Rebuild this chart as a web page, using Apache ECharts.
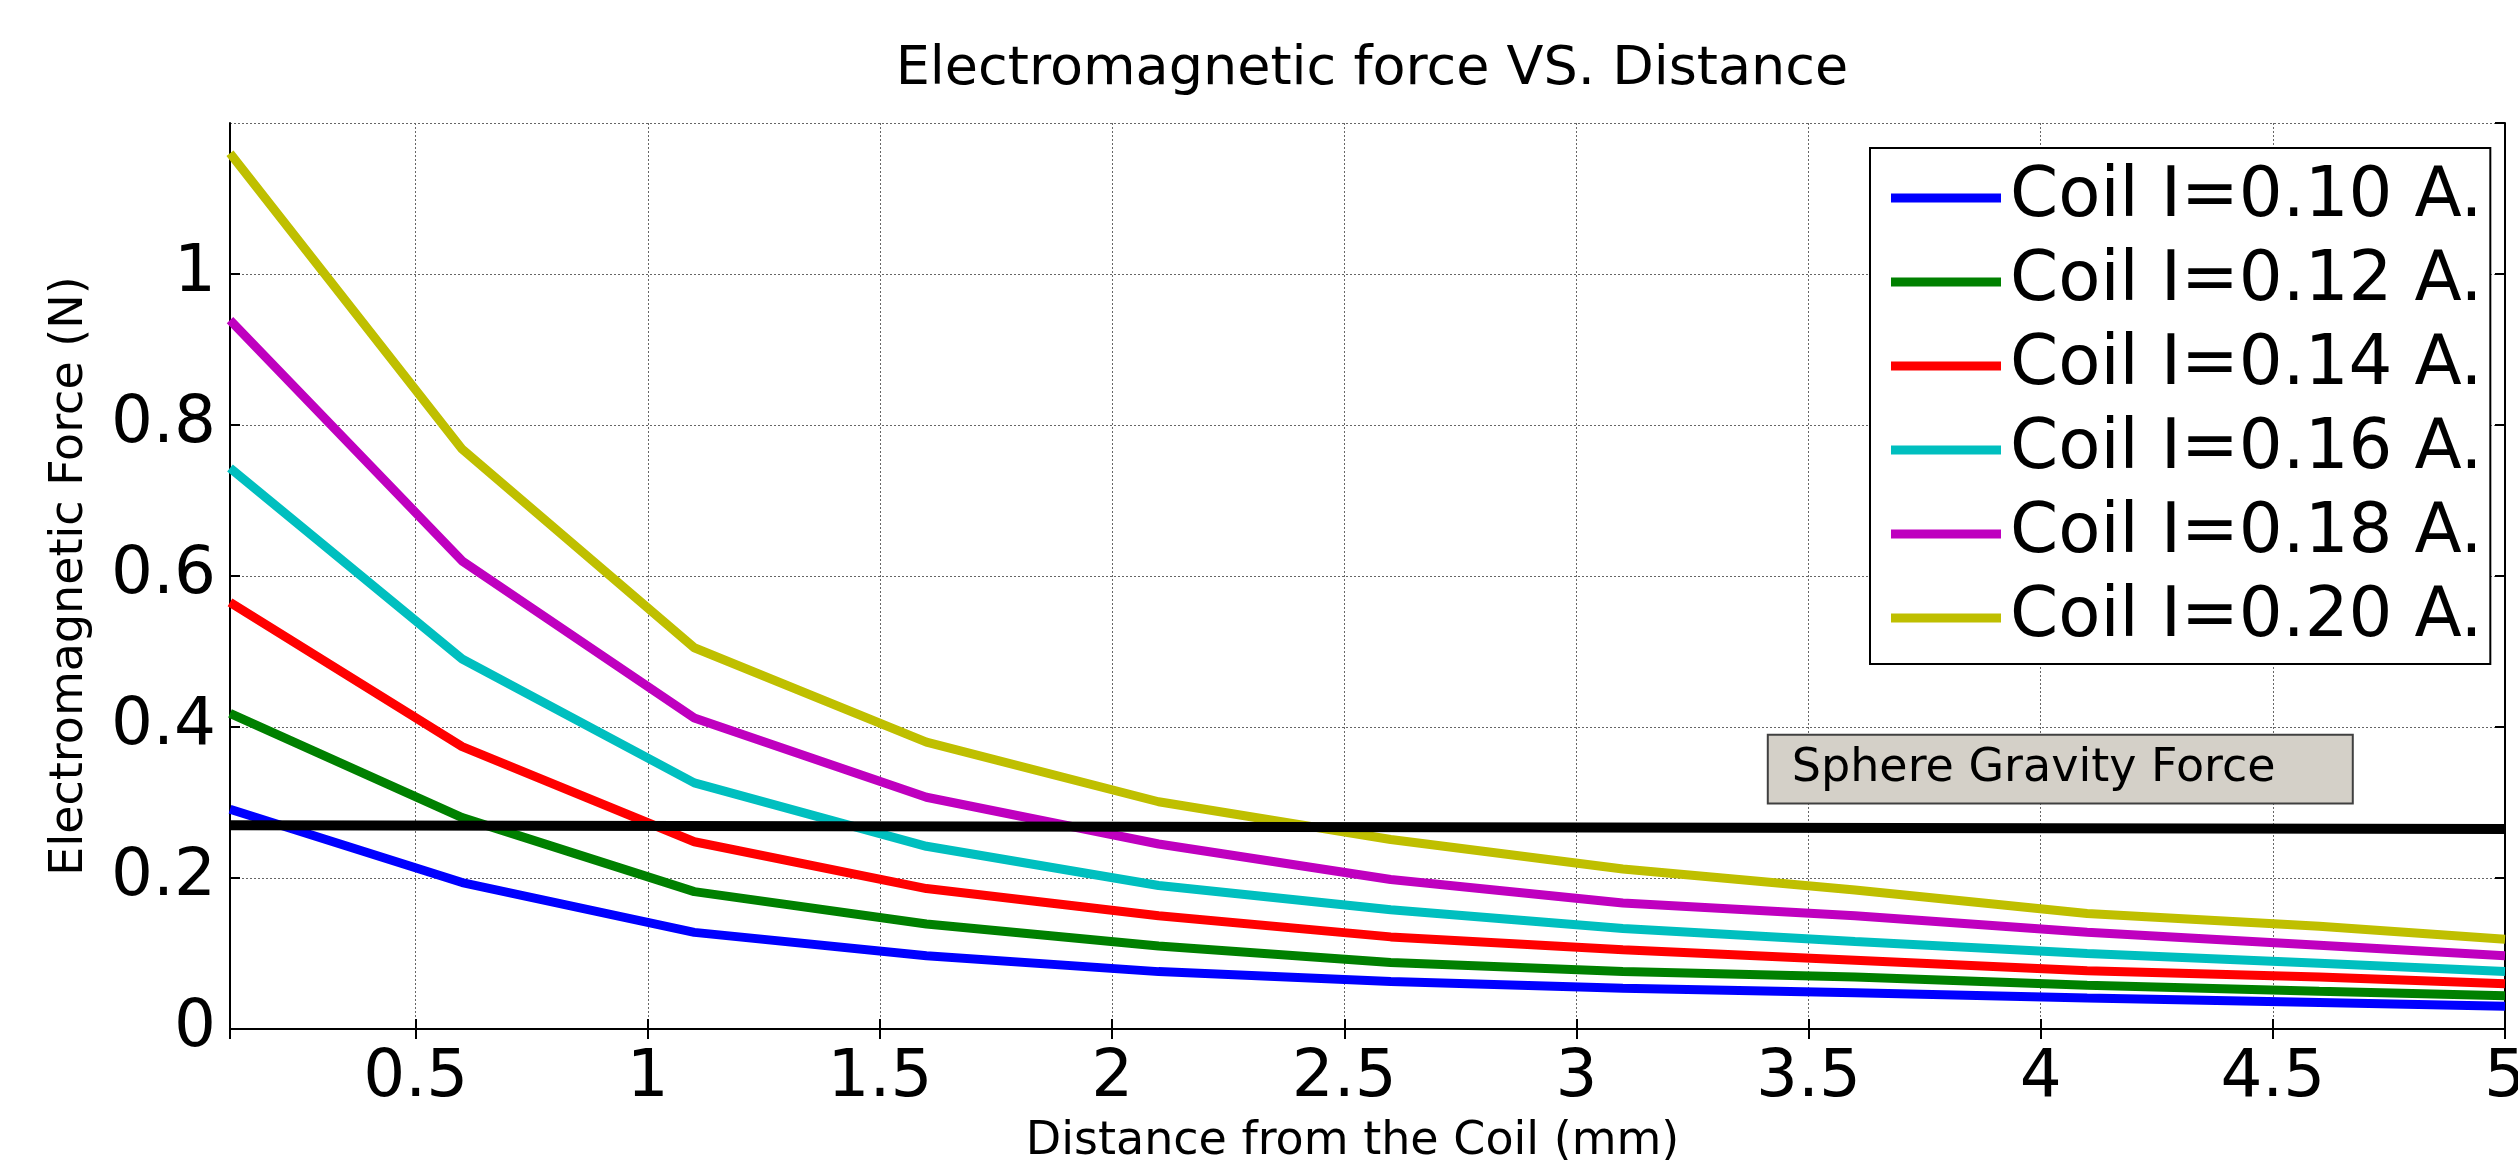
<!DOCTYPE html>
<html>
<head>
<meta charset="utf-8">
<title>Electromagnetic force VS. Distance</title>
<script src="https://cdn.jsdelivr.net/npm/echarts@6/dist/echarts.min.js"></script>
<style>
  html, body { margin: 0; padding: 0; background: #fff; }
  #chart { width: 2518px; height: 1160px; }
</style>
</head>
<body>
<div id="chart"></div>
<script>
// distance from the coil (mm)
const distance = [0.1, 0.6, 1.1, 1.6, 2.1, 2.6, 3.1, 3.6, 4.1, 4.6, 5.0];

// electromagnetic force (N) per coil current
const coil010 = [0.291, 0.194, 0.128, 0.097, 0.076, 0.063, 0.054, 0.048, 0.041, 0.035, 0.030];
const coil012 = [0.418, 0.280, 0.182, 0.139, 0.110, 0.088, 0.076, 0.069, 0.058, 0.050, 0.044];
const coil014 = [0.565, 0.374, 0.248, 0.186, 0.150, 0.122, 0.105, 0.091, 0.077, 0.069, 0.060];
const coil016 = [0.743, 0.490, 0.326, 0.242, 0.190, 0.158, 0.133, 0.116, 0.100, 0.087, 0.076];
const coil018 = [0.939, 0.620, 0.412, 0.307, 0.245, 0.198, 0.167, 0.150, 0.128, 0.111, 0.097];
const coil020 = [1.160, 0.768, 0.505, 0.380, 0.301, 0.251, 0.212, 0.184, 0.153, 0.136, 0.119];

const seriesNames = ['Coil I=0.10 A.', 'Coil I=0.12 A.', 'Coil I=0.14 A.', 'Coil I=0.16 A.', 'Coil I=0.18 A.', 'Coil I=0.20 A.'];
const seriesColors = ['#0000ff', '#008000', '#ff0000', '#00bfbf', '#bf00bf', '#bfbf00'];
const seriesValues = [coil010, coil012, coil014, coil016, coil018, coil020];

// sphere gravity force line
const gravityX = [0.1, 5.0];
const gravityY = [0.270, 0.265];

const FONT = 'DejaVu Sans';
const gridLine = { show: true, lineStyle: { color: '#666', type: [2, 2], width: 1 } };
const frameLine = { show: true, lineStyle: { color: '#000', width: 2 } };
const innerTick = { show: true, inside: true, length: 10, lineStyle: { color: '#000', width: 2 } };

const chart = echarts.init(document.getElementById('chart'));

const lineSeries = seriesNames.map((name, i) => ({
  name: name,
  type: 'line',
  data: distance.map((d, k) => [d, seriesValues[i][k]]),
  showSymbol: false,
  symbol: 'none',
  color: seriesColors[i],
  lineStyle: { width: 9, color: seriesColors[i] },
  z: 3
}));

lineSeries.push({
  name: 'Sphere Gravity Force',
  type: 'line',
  data: gravityX.map((d, k) => [d, gravityY[k]]),
  showSymbol: false,
  symbol: 'none',
  color: '#000',
  lineStyle: { width: 10, color: '#000' },
  z: 4
});

const option = {
  backgroundColor: '#fff',
  animation: false,
  title: {
    text: 'Electromagnetic force VS. Distance',
    left: 1367,
    top: 38,
    textAlign: 'center',
    textStyle: { fontFamily: FONT, fontSize: 54, fontWeight: 'normal', color: '#000' }
  },
  grid: { left: 230, right: 13, top: 123, bottom: 131, containLabel: false, outerBoundsMode: 'none' },
  legend: {
    data: seriesNames,
    orient: 'vertical',
    left: 1870,
    top: 148,
    icon: 'rect',
    itemWidth: 110,
    itemHeight: 9,
    itemGap: 0,
    padding: [8, 8, 4, 21],
    backgroundColor: '#fff',
    borderColor: '#000',
    borderWidth: 2,
    borderRadius: 0,
    textStyle: { fontFamily: FONT, fontSize: 69, color: '#000', lineHeight: 84, padding: [0, 0, 0, 4] },
    z: 10
  },
  xAxis: [{
    type: 'value',
    min: 0.1,
    max: 5,
    minInterval: 0.5,
    maxInterval: 0.5,
    name: 'Distance from the Coil (mm)',
    nameLocation: 'middle',
    nameGap: 90,
    nameTextStyle: { fontFamily: FONT, fontSize: 46, color: '#000', padding: [0, 30, 0, 0] },
    axisLine: frameLine,
    axisTick: innerTick,
    axisLabel: { fontFamily: FONT, fontSize: 66, color: '#000', margin: 17, showMinLabel: false },
    splitLine: gridLine
  }, {
    type: 'value',
    position: 'top',
    min: 0.1,
    max: 5,
    minInterval: 0.5,
    maxInterval: 0.5,
    axisLine: frameLine,
    axisTick: innerTick,
    axisLabel: { show: false },
    splitLine: { show: false }
  }],
  yAxis: [{
    type: 'value',
    min: 0,
    max: 1.2,
    interval: 0.2,
    name: 'Electromagnetic Force (N)',
    nameLocation: 'middle',
    nameGap: 137,
    nameTextStyle: { fontFamily: FONT, fontSize: 46, color: '#000' },
    axisLine: frameLine,
    axisTick: innerTick,
    axisLabel: { fontFamily: FONT, fontSize: 66, color: '#000', margin: 14, showMaxLabel: false },
    splitLine: gridLine
  }, {
    type: 'value',
    position: 'right',
    min: 0,
    max: 1.2,
    interval: 0.2,
    axisLine: frameLine,
    axisTick: innerTick,
    axisLabel: { show: false },
    splitLine: { show: false }
  }],
  series: lineSeries
};

chart.setOption(option);

// annotation box, anchored to data coordinates
const boxTopLeft = chart.convertToPixel({ gridIndex: 0 }, [3.41, 0.391]);
const boxBottomRight = chart.convertToPixel({ gridIndex: 0 }, [4.67, 0.300]);
const boxW = boxBottomRight[0] - boxTopLeft[0];
const boxH = boxBottomRight[1] - boxTopLeft[1];

chart.setOption({
  graphic: [{
    type: 'group',
    left: boxTopLeft[0],
    top: boxTopLeft[1],
    z: 20,
    children: [{
      type: 'rect',
      shape: { x: 0, y: 0, width: boxW, height: boxH },
      style: { fill: '#d4d0c8', stroke: '#404040', lineWidth: 2 }
    }, {
      type: 'text',
      x: 24,
      y: boxH / 2,
      style: {
        text: 'Sphere Gravity Force',
        fontFamily: FONT,
        fontSize: 46,
        fill: '#000',
        verticalAlign: 'middle'
      }
    }]
  }]
});
</script>
</body>
</html>
